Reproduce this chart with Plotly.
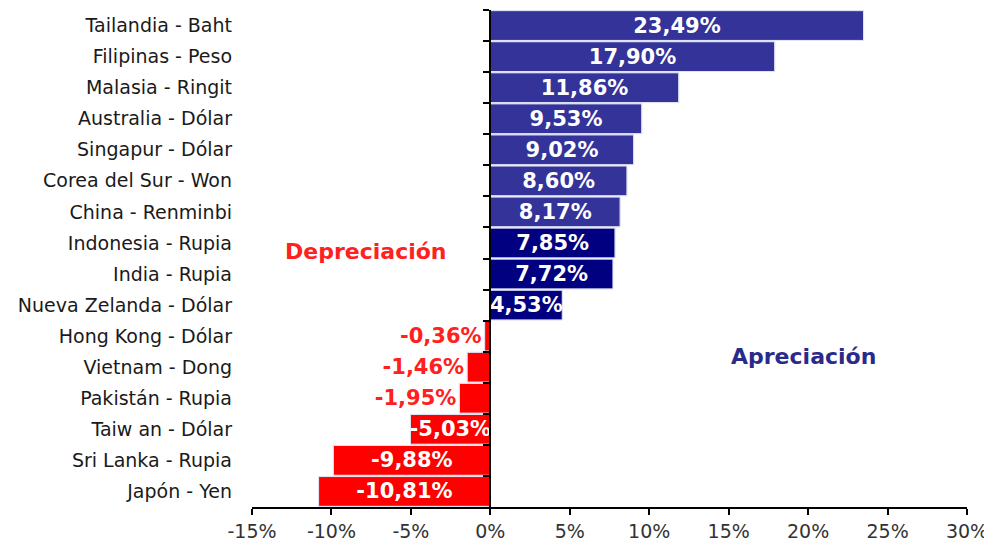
import plotly.graph_objects as go

# currencies vs USD, top to bottom as in the chart
monedas = [
    "Tailandia - Baht",
    "Filipinas - Peso",
    "Malasia - Ringit",
    "Australia - Dólar",
    "Singapur - Dólar",
    "Corea del Sur - Won",
    "China - Renminbi",
    "Indonesia - Rupia",
    "India - Rupia",
    "Nueva Zelanda - Dólar",
    "Hong Kong - Dólar",
    "Vietnam - Dong",
    "Pakistán - Rupia",
    "Taiw an - Dólar",
    "Sri Lanka - Rupia",
    "Japón - Yen",
]
variacion = [23.49, 17.90, 11.86, 9.53, 9.02, 8.60, 8.17, 7.85, 7.72, 4.53,
             -0.36, -1.46, -1.95, -5.03, -9.88, -10.81]
grupo = ["a"] * 7 + ["b"] * 3 + ["d"] * 6

tick_vals = [-15, -10, -5, 0, 5, 10, 15, 20, 25, 30]
tick_text = ["-15%", "-10%", "-5%", "0%", "5%", "10%", "15%", "20%", "25%", "30%"]

colores = {"a": "#333399", "b": "#000080", "d": "#FF0000"}
bar_colors = [colores[g] for g in grupo]
etiquetas = [f"{v:.2f}%".replace(".", ",") for v in variacion]
# small negative bars get the label outside (red)
text_pos = ["outside" if -2 < v < 0 else "inside" for v in variacion]

font_family = "DejaVu Sans, Verdana, Arial, sans-serif"

fig = go.Figure()
fig.add_trace(go.Bar(
    x=variacion,
    y=monedas,
    orientation="h",
    marker=dict(color=bar_colors, line=dict(color="#dcdcf0", width=1)),
    text=etiquetas,
    textposition=text_pos,
    textangle=0,
    constraintext="none",
    insidetextanchor="middle",
    insidetextfont=dict(family=font_family, size=21, color="white", weight="bold"),
    outsidetextfont=dict(family=font_family, size=21, color="#FF2020", weight="bold"),
    cliponaxis=False,
    showlegend=False,
    hoverinfo="x+y",
))
# invisible copy on the second y axis, only to get the ticks on the zero line
fig.add_trace(go.Bar(
    x=variacion,
    y=monedas,
    orientation="h",
    yaxis="y2",
    marker=dict(color="rgba(0,0,0,0)"),
    showlegend=False,
    hoverinfo="skip",
))

# page body has an 8px margin, so the figure is a bit smaller than the window
fig.update_layout(
    width=984,
    height=537,
    margin=dict(l=244, r=25, t=2, b=38, autoexpand=False),
    paper_bgcolor="white",
    plot_bgcolor="white",
    bargap=0.04,
    font=dict(family=font_family, size=19, color="#222222"),
    xaxis=dict(
        range=[-15, 30],
        tickvals=tick_vals,
        ticktext=tick_text,
        automargin=False,
        showgrid=False,
        zeroline=False,
        showline=True,
        linecolor="black",
        linewidth=2,
        ticks="outside",
        ticklen=6,
        tickcolor="black",
        tickwidth=2,
        tickfont=dict(size=19, color="#333333"),
    ),
    yaxis=dict(
        autorange="reversed",
        automargin=False,
        showgrid=False,
        zeroline=False,
        showline=False,
        ticks="",
        ticklabelstandoff=19,
        tickfont=dict(size=19, color="#1a1a1a"),
    ),
    yaxis2=dict(
        overlaying="y",
        anchor="free",
        position=1 / 3,
        side="left",
        autorange="reversed",
        automargin=False,
        showgrid=False,
        zeroline=False,
        showline=True,
        linecolor="black",
        linewidth=2,
        ticks="outside",
        tickson="boundaries",
        ticklen=6,
        tickcolor="black",
        tickwidth=2,
        showticklabels=False,
    ),
    annotations=[
        dict(text="<b>Depreciación</b>", x=0.159, y=0.515, xref="paper", yref="paper",
             xanchor="center", yanchor="middle",
             showarrow=False, font=dict(family=font_family, size=22, color="#FF2020")),
        dict(text="<b>Apreciación</b>", x=0.771, y=0.302, xref="paper", yref="paper",
             xanchor="center", yanchor="middle",
             showarrow=False, font=dict(family=font_family, size=22, color="#2a2a8a")),
    ],
)

fig.write_html("out.html")
